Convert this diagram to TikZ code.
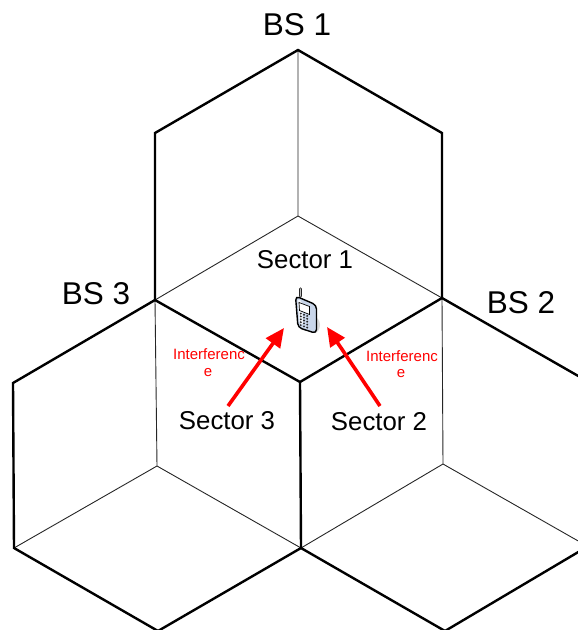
\documentclass[tikz,border=0pt]{standalone}
\usepackage{fontspec}
\setmainfont{Liberation Sans}
\usetikzlibrary{arrows.meta}
\tikzset{
  cellborder/.style={line width=2.4pt,line join=miter,black},
  sectorline/.style={line width=0.9pt,black!85},
  bigarrow/.style={line width=3.6pt,red,-{Triangle[length=19pt,width=17pt]}},
  bslabel/.style={font=\fontsize{31.5}{33}\selectfont,inner sep=0pt},
  seclabel/.style={font=\fontsize{25.8}{27}\selectfont,inner sep=0pt},
  intlabel/.style={font=\fontsize{15}{16}\selectfont,text=red,inner sep=0pt},
}
\definecolor{phonebody}{HTML}{C9D6EA}
\begin{document}
\begin{tikzpicture}[x=1pt,y=-1pt]
\useasboundingbox (0,0) rectangle (578,630);
\clip (0,0) rectangle (578,630);
% vertices
\coordinate (t1) at (298,50);
\coordinate (a) at (442,133);
\coordinate (bs2) at (442,298);
\coordinate (mid) at (300,382);
\coordinate (bs3) at (155,300);
\coordinate (b) at (155,133);
\coordinate (c1) at (298,216);
\coordinate (c3) at (157,466);
\coordinate (c2) at (443,464);
\coordinate (l1) at (13,383);
\coordinate (l2) at (14,548);
\coordinate (low) at (301,548);
\coordinate (ap3) at (158,631);
\coordinate (ap2) at (445,631);
\coordinate (r1) at (580,377);
\coordinate (r2) at (580,551);
\coordinate (r3) at (580,542);
% thin sector lines
\draw[sectorline] (t1) -- (c1) (bs3) -- (c1) -- (bs2);
\draw[sectorline] (bs3) -- (c3) (l2) -- (c3) -- (low);
\draw[sectorline] (bs2) -- (c2) (low) -- (c2) -- (r3);
% cell borders
\draw[cellborder] (bs3) -- (b) -- (t1) -- (a) -- (bs2) -- (mid) -- (bs3);
\draw[cellborder] (bs3) -- (l1) -- (l2) -- (ap3) -- (low) -- (mid);
\draw[cellborder] (bs2) -- (r1);
\draw[cellborder] (low) -- (ap2) -- (r2);
% phone
\fill[black!14] (314,325) ellipse (6pt and 8pt);
\draw[line width=3.4pt,line cap=round,black!85] (300.5,289) -- (300.5,296);
\draw[line width=1.4pt,line cap=round,white!75!black] (300.5,289) -- (300.5,296);
\draw[line width=1.4pt,rounded corners=4pt,fill=phonebody] (295.5,296) -- (316.5,305) -- (316.5,333.5) -- (298,327.5) -- cycle;
\fill[white,opacity=.75,rounded corners=2pt] (297.5,299) -- (302,301) -- (303,325) -- (299.5,324) -- cycle;
\draw[line width=.7pt,fill=white] (299,302.5) -- (309.5,306.5) -- (309.5,314.5) -- (299.5,310.5) -- cycle;
\foreach \i in {0,1,2,3,4}{
  \foreach \j in {0,1,2}{
    \fill[black!85] (300.8+\j*3.2,313.5+\i*2.9+\j*1.2) circle (1.05pt);
  }
}
% labels
\node[bslabel] (bs1lab) at (297,25) {BS 1};
\node[bslabel] (bs2lab) at (521,303) {BS 2};
\node[bslabel] (bs3lab) at (96,294) {BS 3};
\node[seclabel] (sec1) at (305,260) {Sector 1};
\node[seclabel] (sec3) at (227,421) {Sector 3};
\node[seclabel] (sec2) at (379,422) {Sector 2};
\node[intlabel] (int3) at (209,354) {Interferenc};
\node[intlabel] (int3b) at (208,373) {e};
\node[intlabel] (int2) at (402,356) {Interferenc};
\node[intlabel] (int2b) at (401,374) {e};
% arrows
\coordinate (s3tail) at (228,406);
\coordinate (s3tip) at (284,328);
\coordinate (s2tail) at (380,406);
\coordinate (s2tip) at (327,327);
\draw[bigarrow] (s3tail) -- (s3tip);
\draw[bigarrow] (s2tail) -- (s2tip);
\end{tikzpicture}
\end{document}
